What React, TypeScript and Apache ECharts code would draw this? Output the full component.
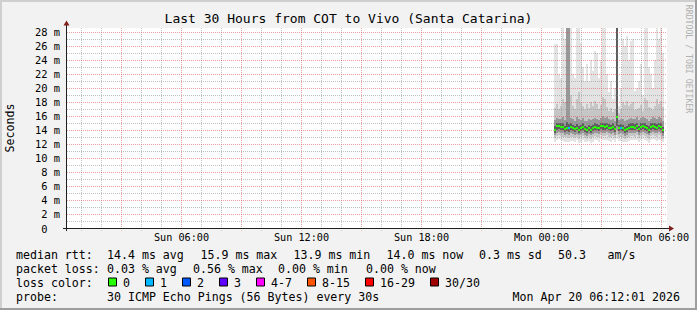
import React, { useEffect, useRef } from 'react';
import * as echarts from 'echarts';

const FONT = '"DejaVu Sans Mono", monospace';
const TITLE = 'Last 30 Hours from COT to Vivo (Santa Catarina)';

// x axis: minutes since Sun 00:00
const X_MIN = 16.5;
const X_MAX = 1816.5;
const Y_MAX = 28.64;

const xLabelValues = [360, 720, 1080, 1440, 1800];
const xLabelTexts = ['Sun 06:00', 'Sun 12:00', 'Sun 18:00', 'Mon 00:00', 'Mon 06:00'];

const FIRST_SAMPLE = 1476; // Mon 00:36
const STEP = 6; // minutes per sample

const medianRtt = [14.1, 14.6, 14.7, 14.5, 14.5, 14.2, 14.4, 14.3, 14.5, 14.3, 14.2, 14.4, 14.1, 14.3, 14.5, 14.2, 14.0, 14.3, 14.1, 14.3, 14.5, 14.4, 14.3, 14.6, 14.6, 14.5, 14.6, 14.4, 14.3, 14.5, 14.2, 15.9, 14.3, 14.4, 14.3, 14.0, 14.2, 14.4, 14.5, 14.5, 14.4, 14.6, 14.2, 14.5, 14.6, 14.5, 14.3, 14.1, 14.5, 14.6, 14.5, 14.4, 14.6, 14.5, 14.0];
const lossCount = [0, 0, 0, 0, 0, 0, 0, 1, 0, 0, 0, 0, 0, 0, 0, 0, 0, 0, 0, 0, 0, 0, 0, 0, 0, 0, 0, 0, 0, 0, 0, 0, 0, 1, 0, 0, 0, 0, 0, 0, 0, 0, 0, 0, 0, 0, 0, 0, 0, 0, 0, 0, 0, 0, 0];

const smokeMax = [26.4, 26.4, 22.0, 21.5, 28.6, 27.0, 28.6, 28.6, 28.6, 22.0, 21.5, 28.6, 28.6, 26.5, 23.0, 21.0, 23.5, 21.0, 24.0, 22.5, 25.4, 25.0, 21.5, 24.0, 28.6, 28.6, 22.0, 19.5, 21.0, 18.5, 20.0, 28.6, 17.5, 20.0, 27.0, 26.0, 27.5, 24.0, 26.8, 27.0, 19.7, 20.0, 21.0, 23.5, 19.0, 28.6, 28.6, 23.0, 22.0, 20.0, 24.0, 28.6, 27.0, 28.6, 25.0];
const smokeP90 = [17.2, 17.8, 17.0, 17.5, 18.5, 18.0, 28.6, 28.6, 19.0, 17.5, 17.0, 18.5, 19.5, 18.0, 17.5, 17.0, 17.8, 17.2, 18.0, 17.5, 18.2, 17.8, 17.0, 17.6, 18.8, 18.5, 17.4, 16.8, 17.2, 16.6, 17.0, 28.6, 16.5, 17.0, 18.0, 17.6, 18.2, 17.5, 17.8, 18.0, 16.9, 17.0, 17.2, 17.6, 16.8, 18.6, 18.4, 17.4, 17.2, 16.9, 17.5, 18.5, 17.8, 18.2, 17.3];
const smokeP75 = [15.5, 15.8, 15.7, 15.6, 15.9, 15.5, 28.6, 28.6, 15.8, 15.6, 15.4, 15.9, 15.7, 15.5, 15.8, 15.4, 15.3, 15.6, 15.5, 15.6, 15.8, 15.7, 15.5, 15.8, 16.0, 15.8, 15.9, 15.6, 15.5, 15.7, 15.4, 28.6, 15.5, 15.7, 15.6, 15.3, 15.5, 15.7, 15.8, 15.7, 15.6, 15.9, 15.5, 15.8, 15.9, 15.8, 15.6, 15.4, 15.7, 15.9, 15.8, 15.7, 15.9, 15.8, 15.3];
const smokeP60 = [14.6, 15.0, 15.1, 15.0, 15.0, 14.7, 15.2, 14.9, 15.0, 14.8, 14.7, 14.9, 14.6, 14.8, 15.0, 14.7, 14.5, 14.8, 14.6, 14.8, 15.0, 14.9, 14.8, 15.1, 15.1, 15.0, 15.1, 14.9, 14.8, 15.0, 14.7, 28.6, 14.8, 14.9, 14.8, 14.5, 14.7, 14.9, 15.0, 15.0, 14.9, 15.1, 14.7, 15.0, 15.1, 15.0, 14.8, 14.6, 15.0, 15.1, 15.0, 14.9, 15.1, 15.0, 14.5];
const smokeP40 = [13.7, 14.1, 14.2, 14.1, 14.0, 13.8, 13.9, 13.8, 14.0, 13.9, 13.8, 14.0, 13.7, 13.9, 14.1, 13.8, 13.6, 13.9, 13.7, 13.9, 14.1, 14.0, 13.9, 14.2, 14.1, 14.1, 14.2, 14.0, 13.9, 14.1, 13.8, 14.6, 13.9, 14.0, 13.9, 13.6, 13.8, 14.0, 14.1, 14.1, 14.0, 14.2, 13.8, 14.1, 14.2, 14.1, 13.9, 13.7, 14.1, 14.2, 14.1, 14.0, 14.2, 14.1, 13.6];
const smokeP25 = [13.3, 13.7, 13.8, 13.6, 13.6, 13.4, 13.5, 13.4, 13.6, 13.5, 13.4, 13.5, 13.3, 13.5, 13.7, 13.4, 13.2, 13.5, 13.3, 13.5, 13.7, 13.6, 13.5, 13.8, 13.7, 13.7, 13.8, 13.6, 13.5, 13.7, 13.4, 14.0, 13.5, 13.6, 13.5, 13.2, 13.4, 13.6, 13.7, 13.7, 13.6, 13.8, 13.4, 13.7, 13.8, 13.7, 13.5, 13.3, 13.7, 13.8, 13.7, 13.6, 13.8, 13.7, 13.2];
const smokeP10 = [12.9, 13.2, 13.3, 13.2, 13.1, 13.0, 13.0, 12.9, 13.1, 13.0, 12.9, 13.1, 12.8, 13.0, 13.2, 12.9, 12.8, 13.0, 12.8, 13.0, 13.2, 13.1, 13.0, 13.3, 13.2, 13.2, 13.3, 13.1, 13.0, 13.2, 12.9, 13.4, 13.0, 13.1, 13.0, 12.8, 12.9, 13.1, 13.2, 13.2, 13.1, 13.3, 12.9, 13.2, 13.3, 13.2, 13.0, 12.8, 13.2, 13.3, 13.2, 13.1, 13.3, 13.2, 12.8];
const smokeMin = [12.4, 12.6, 12.8, 12.6, 12.5, 12.4, 12.4, 12.3, 12.5, 12.5, 12.3, 12.6, 12.2, 12.4, 12.7, 12.3, 12.3, 12.5, 12.2, 12.4, 12.6, 12.6, 12.4, 12.8, 12.6, 12.7, 12.7, 12.5, 12.4, 12.7, 12.3, 12.8, 12.5, 12.5, 12.4, 12.3, 12.3, 12.5, 12.7, 12.6, 12.6, 12.7, 12.4, 12.6, 12.8, 12.6, 12.5, 12.2, 12.6, 12.8, 12.6, 12.5, 12.7, 12.6, 12.3];

const lossLabels = ['0', '1', '2', '3', '4-7', '8-15', '16-29', '30/30'];
const lossColors = ['#26ff00', '#00b8ff', '#0059ff', '#5e00ff', '#ff00ff', '#ff5500', '#ff0000', '#a10000'];
const lossUpper = [0, 1, 2, 3, 7, 15, 29, 30];

const rttRow = ['median rtt:', '14.4 ms avg', '15.9 ms max', '13.9 ms min', '14.0 ms now', '0.3 ms sd', '50.3', 'am/s'];
const lossRow = ['packet loss:', '0.03 % avg', '0.56 % max', '0.00 % min', '0.00 % now'];
const probeRow = ['probe:', '30 ICMP Echo Pings (56 Bytes) every 30s', 'Mon Apr 20 06:12:01 2026'];

// layout (pixels)
const rttX = [16, 107, 200.5, 293.5, 386.5, 479, 558, 607.5];
const lossX = [16, 107, 193, 278, 366];
const probeX = [16, 107, 512.5];
const boxX = [108.5, 145.5, 182.5, 219.5, 256.5, 307.5, 365.5, 430.5];
const ROW_Y = [254.5, 268.5, 282.5, 296.5];

const SMOKE_COLORS = ['#e3e3e3', '#c6c6c6', '#989898', '#5e5e5e'];
const GRID_COLOR = 'rgba(143,143,143,0.55)';
const MGRID_COLOR = 'rgba(222,79,79,0.55)';

function lossIndex(n: number) {
  for (let i = 0; i < lossUpper.length; i++) if (n <= lossUpper[i]) return i;
  return lossUpper.length - 1;
}

export default function App() {
  const ref = useRef<HTMLDivElement>(null);
  useEffect(() => {
    if (!ref.current) return;
    const chart = echarts.init(ref.current, null, { renderer: 'svg' });

    const times = medianRtt.map((_, i) => FIRST_SAMPLE + STEP * i);
    const smokeData = times.map((t, i) => [t, smokeMin[i], smokeP10[i], smokeP25[i], smokeP40[i], smokeP60[i], smokeP75[i], smokeP90[i], smokeMax[i]]);
    const medianData = times.map((t, i) => [t, medianRtt[i], lossCount[i]]);

    const gridData: number[][] = [];
    for (let m = 60; m <= 1800; m += 60) gridData.push([m, m % 180 === 0 ? 1 : 0]);
    for (let v = 1; v <= 28; v++) gridData.push([v, v % 2 === 0 ? 3 : 2]);

    const txt = (text: string, x: number, y: number, extra: any = {}) => ({
      type: 'text', x, y, z: 100,
      style: { text, fontFamily: FONT, fontSize: 11.6, fill: '#000', verticalAlign: 'middle', ...extra },
    });

    const graphic: any[] = [
      // frame
      { type: 'rect', z: 100, shape: { x: 0, y: 0, width: 697, height: 2 }, style: { fill: '#cfcfcf' } },
      { type: 'rect', z: 100, shape: { x: 0, y: 0, width: 2, height: 310 }, style: { fill: '#cfcfcf' } },
      { type: 'rect', z: 100, shape: { x: 0, y: 308, width: 697, height: 2 }, style: { fill: '#9e9e9e' } },
      { type: 'rect', z: 100, shape: { x: 695, y: 0, width: 2, height: 310 }, style: { fill: '#9e9e9e' } },
      // axes
      { type: 'line', z: 100, shape: { x1: 63, y1: 228.5, x2: 669, y2: 228.5 }, style: { stroke: '#1f1f1f', lineWidth: 1 } },
      { type: 'line', z: 100, shape: { x1: 66.5, y1: 231, x2: 66.5, y2: 25 }, style: { stroke: '#1f1f1f', lineWidth: 1 } },
      { type: 'polygon', z: 100, shape: { points: [[669, 225.5], [669, 231.5], [674, 228.5]] }, style: { fill: '#801f1f' } },
      { type: 'polygon', z: 100, shape: { points: [[63.5, 25.5], [69.5, 25.5], [66.5, 20.5]] }, style: { fill: '#801f1f' } },
      // side texts
      { ...txt('Seconds', 10, 128, { align: 'center' }), rotation: Math.PI / 2 },
      { ...txt('RRDTOOL / TOBI OETIKER', 688.5, 59, { align: 'center', fontSize: 8.2, fill: '#b0b0b0' }), rotation: -Math.PI / 2 },
    ];

    rttRow.forEach((s, i) => graphic.push(txt(s, rttX[i], ROW_Y[0])));
    lossRow.forEach((s, i) => graphic.push(txt(s, lossX[i], ROW_Y[1])));
    graphic.push(txt('loss color:', 16, ROW_Y[2]));
    lossLabels.forEach((s, i) => {
      graphic.push({ type: 'rect', z: 100, shape: { x: boxX[i], y: ROW_Y[2] - 4.5, width: 8, height: 8 }, style: { fill: lossColors[i], stroke: '#000', lineWidth: 1 } });
      graphic.push(txt(s, boxX[i] + 14.5, ROW_Y[2]));
    });
    probeRow.forEach((s, i) => graphic.push(txt(s, probeX[i], ROW_Y[3])));

    const option: any = {
      animation: false,
      backgroundColor: '#f2f2f2',
      title: {
        text: TITLE, left: 'center', top: 12, padding: 0,
        textStyle: { fontFamily: FONT, fontSize: 13, fontWeight: 'normal', color: '#000' },
      },
      grid: { left: 67, right: 30, top: 28, bottom: 81.5, show: true, backgroundColor: '#ffffff', borderWidth: 0 },
      xAxis: {
        type: 'value', min: X_MIN, max: X_MAX,
        axisLine: { show: false }, axisTick: { show: false }, splitLine: { show: false },
        axisLabel: {
          customValues: xLabelValues,
          formatter: (v: number) => { const k = xLabelValues.indexOf(v); return k >= 0 ? xLabelTexts[k] : ''; },
          fontFamily: FONT, fontSize: 10.2, color: '#000', margin: 4,
        },
      },
      yAxis: {
        type: 'value', min: 0, max: Y_MAX, interval: 2,
        axisLine: { show: false }, axisTick: { show: false }, splitLine: { show: false },
        axisLabel: {
          formatter: (v: number) => {
            if (Math.abs(v - Math.round(v)) > 1e-6 || Math.round(v) % 2 !== 0) return '';
            return v === 0 ? '0\u00a0\u00a0' : `${Math.round(v)} m`;
          },
          fontFamily: FONT, fontSize: 10.4, color: '#000', margin: 7,
        },
      },
      graphic,
      series: [
        {
          type: 'custom', z: 1, silent: true, data: smokeData,
          renderItem: (params: any, api: any) => {
            const t = api.value(0);
            const cs = params.coordSys;
            const x0 = Math.round(api.coord([t, 0])[0]);
            const x1 = Math.round(api.coord([t + STEP, 0])[0]);
            const band = (lo: number, hi: number, fill: string) => {
              const yT = Math.max(cs.y, Math.round(api.coord([t, hi])[1]));
              const yB = Math.round(api.coord([t, lo])[1]);
              return { type: 'rect', shape: { x: x0, y: yT, width: x1 - x0, height: yB - yT }, style: { fill } };
            };
            return {
              type: 'group',
              children: [
                band(api.value(1), api.value(8), SMOKE_COLORS[0]),
                band(api.value(2), api.value(7), SMOKE_COLORS[1]),
                band(api.value(3), api.value(6), SMOKE_COLORS[2]),
                band(api.value(4), api.value(5), SMOKE_COLORS[3]),
              ],
            };
          },
        },
        {
          type: 'custom', z: 2, silent: true, data: gridData,
          renderItem: (params: any, api: any) => {
            const v = api.value(0);
            const k = api.value(1);
            const cs = params.coordSys;
            const stroke = k === 1 || k === 3 ? MGRID_COLOR : GRID_COLOR;
            if (k < 2) {
              const px = Math.floor(api.coord([v, 0])[0]) + 0.5;
              return { type: 'line', shape: { x1: px, y1: cs.y, x2: px, y2: cs.y + cs.height + 2 }, style: { stroke, lineWidth: 1, lineDash: [1, 1] } };
            }
            const py = Math.floor(api.coord([X_MIN, v])[1]) + 0.5;
            return { type: 'line', shape: { x1: cs.x, y1: py, x2: cs.x + cs.width, y2: py }, style: { stroke, lineWidth: 1, lineDash: [1, 1] } };
          },
        },
        {
          type: 'custom', z: 3, silent: true, data: medianData,
          renderItem: (params: any, api: any) => {
            const t = api.value(0);
            const x0 = Math.round(api.coord([t, 0])[0]);
            const x1 = Math.round(api.coord([t + STEP, 0])[0]);
            const y = Math.round(api.coord([t, api.value(1)])[1]);
            return { type: 'rect', shape: { x: x0, y: y - 1, width: x1 - x0, height: 2 }, style: { fill: lossColors[lossIndex(api.value(2))] } };
          },
        },
      ],
    };
    chart.setOption(option);
    return () => chart.dispose();
  }, []);
  return <div ref={ref} style={{ position: 'absolute', left: 0, top: 0, width: 697, height: 310 }} />;
}
